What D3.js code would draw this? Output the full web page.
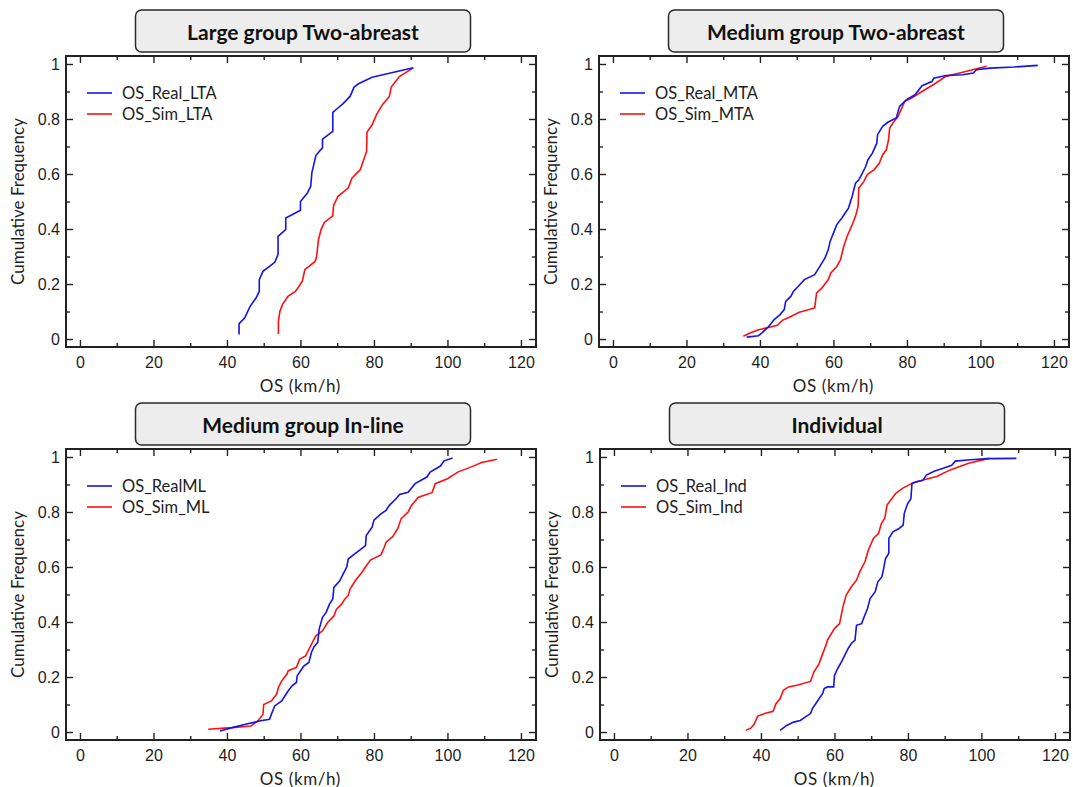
<!DOCTYPE html>
<html>
<head>
<meta charset="utf-8">
<script src="https://cdn.jsdelivr.net/npm/d3@7"></script>
<style>
  body { margin: 0; background: #fff; }
  svg { font-family: Lato, "Open Sans", sans-serif; }
  .tick text { fill: #1e1e1e; font-size: 16px; }
  .tick line { stroke: #222; stroke-width: 1.4; }
</style>
</head>
<body>
<div id="chart"></div>
<script>
// values: [OS km/h, cumulative frequency]
const realLTA = [[43.3,0.016],[43.3,0.056],[44.8,0.076],[46.3,0.119],[47.9,0.149],[48.8,0.173],[48.8,0.216],[49.8,0.246],[52.1,0.27],[53,0.279],[53.9,0.307],[53.9,0.373],[54.9,0.385],[56,0.398],[56,0.44],[57.7,0.452],[60,0.468],[60,0.5],[61.9,0.531],[62.8,0.555],[63.1,0.604],[64.2,0.667],[65.1,0.682],[66,0.695],[66,0.727],[68.8,0.755],[68.8,0.824],[70.2,0.84],[71.6,0.856],[73.5,0.882],[74.6,0.916],[75.8,0.928],[79.5,0.952],[90.7,0.986]];
const simLTA = [[54,0.018],[54,0.064],[54.4,0.1],[55.1,0.125],[56.6,0.155],[58.6,0.173],[59.5,0.189],[60.5,0.21],[61.2,0.252],[62.3,0.264],[64,0.282],[64.4,0.3],[64.9,0.361],[65.6,0.398],[66.5,0.424],[68.8,0.448],[69,0.485],[70.2,0.519],[73,0.549],[74,0.585],[76.3,0.616],[77.2,0.652],[78,0.682],[78.1,0.752],[79.5,0.779],[80.7,0.816],[82.3,0.852],[84.2,0.882],[84.7,0.916],[87,0.955],[90.7,0.986]];

const realMTA = [[36.4,0.007],[39.6,0.012],[40.7,0.024],[42.4,0.046],[43.8,0.07],[45.4,0.088],[46.6,0.107],[47,0.137],[48.4,0.155],[49.1,0.173],[50.3,0.19],[52.1,0.216],[54.9,0.234],[56.3,0.264],[57.7,0.295],[58.6,0.325],[59.1,0.355],[60,0.385],[60.9,0.416],[62.3,0.44],[63.2,0.458],[64.1,0.476],[65.1,0.519],[66,0.567],[66.9,0.579],[67.9,0.604],[68.8,0.628],[69.4,0.652],[70.6,0.676],[71.8,0.712],[72,0.743],[73.4,0.773],[74.8,0.788],[77.1,0.804],[78,0.846],[79.9,0.87],[82.2,0.888],[84.1,0.921],[86.8,0.936],[87.3,0.948],[90.6,0.958],[95.2,0.961],[98.1,0.967],[98.9,0.979],[102.6,0.985],[109.1,0.989],[115.6,0.995]];
const simMTA = [[35.5,0.01],[37.3,0.022],[39.6,0.034],[42.4,0.042],[44.7,0.05],[46.1,0.068],[48.4,0.082],[50.7,0.097],[54.9,0.113],[55.4,0.167],[56.8,0.185],[58.6,0.216],[59.3,0.24],[60.9,0.264],[61.9,0.288],[62.8,0.337],[63.7,0.373],[65.1,0.416],[66,0.446],[66.7,0.482],[66.9,0.549],[68.3,0.573],[69.2,0.598],[71.1,0.616],[72.5,0.64],[73.4,0.67],[74.4,0.688],[75,0.725],[75.3,0.767],[76.2,0.786],[77.6,0.81],[79.4,0.864],[81.3,0.876],[84.1,0.9],[87.8,0.93],[90.6,0.955],[95.2,0.97],[98.9,0.983],[101.7,0.992]];

const realML = [[38.1,0.004],[41.4,0.016],[45.1,0.028],[48.8,0.04],[51.6,0.046],[52.1,0.065],[53,0.095],[54.9,0.113],[55.8,0.132],[56.7,0.15],[57.7,0.168],[58.9,0.18],[59.1,0.204],[60,0.222],[60.9,0.24],[62.3,0.253],[63,0.29],[63.7,0.31],[64.7,0.326],[65.1,0.374],[66,0.417],[67,0.435],[67.9,0.465],[68.8,0.484],[69.1,0.526],[70.7,0.55],[71.6,0.574],[72.6,0.6],[73,0.629],[74.4,0.644],[76.3,0.663],[77.7,0.678],[77.9,0.714],[79.5,0.745],[80,0.77],[81.9,0.793],[83.3,0.806],[84.2,0.824],[86,0.848],[87,0.864],[89.3,0.872],[91.2,0.903],[94.4,0.927],[95.3,0.945],[98.1,0.967],[99.1,0.986],[101.4,0.996]];
const simML = [[34.9,0.01],[36.7,0.012],[41.4,0.016],[46.5,0.022],[48.4,0.04],[49.8,0.064],[50,0.1],[52.1,0.113],[53.5,0.137],[54,0.162],[54.9,0.186],[56.3,0.21],[56.7,0.223],[58.9,0.235],[59.8,0.265],[61.4,0.277],[62.3,0.301],[63.5,0.332],[64.2,0.35],[66,0.368],[67.4,0.398],[69.1,0.422],[69.8,0.447],[71.2,0.465],[72.1,0.484],[73,0.496],[73.5,0.52],[74.9,0.55],[76.7,0.58],[77.7,0.6],[79.1,0.626],[81.9,0.644],[82.8,0.672],[83.3,0.69],[85.1,0.71],[86.5,0.74],[87.4,0.776],[89.3,0.8],[90.2,0.824],[92.1,0.854],[95.8,0.87],[96.7,0.903],[100,0.921],[102.8,0.945],[106.5,0.964],[109.3,0.98],[113.5,0.992]];

const realInd = [[45.2,0.006],[47,0.024],[48.9,0.036],[50.7,0.042],[52.1,0.055],[53.5,0.067],[54,0.085],[54.9,0.103],[55.8,0.121],[56.8,0.14],[57.2,0.158],[58.1,0.164],[59.8,0.164],[60,0.206],[60.9,0.231],[61.9,0.255],[62.8,0.279],[63.7,0.303],[64.6,0.322],[65.6,0.334],[66,0.388],[67.4,0.394],[68.1,0.419],[69,0.449],[69.7,0.485],[71.1,0.51],[71.8,0.546],[72.9,0.564],[73.4,0.595],[73.9,0.631],[74.8,0.65],[74.8,0.704],[75.9,0.728],[77.6,0.74],[78.7,0.752],[79,0.795],[79.9,0.83],[80.8,0.848],[81.1,0.904],[82.2,0.91],[84.1,0.915],[85,0.934],[87.3,0.949],[89.6,0.959],[91.9,0.97],[92.9,0.985],[97,0.99],[101.7,0.994],[109.5,0.995]];
const simInd = [[35.9,0.006],[37.3,0.015],[38.2,0.03],[39.1,0.058],[41,0.067],[43.3,0.075],[44.1,0.103],[45.2,0.121],[46.1,0.152],[47.5,0.164],[49.8,0.17],[53.5,0.184],[54.4,0.218],[55.8,0.248],[56.8,0.285],[57.7,0.316],[58.1,0.334],[60,0.376],[61.4,0.394],[62.3,0.455],[63.2,0.498],[64.6,0.528],[66,0.552],[66.9,0.583],[68.3,0.619],[69.2,0.661],[70.6,0.704],[72,0.722],[72.8,0.759],[73.7,0.777],[74.3,0.825],[75.7,0.85],[76.7,0.868],[78.5,0.886],[81.1,0.904],[84.1,0.916],[87.8,0.929],[91.5,0.953],[96.5,0.977],[102.1,0.995]];

const titles = ["Large group Two-abreast", "Medium group Two-abreast", "Medium group In-line", "Individual"];
const realNames = ["OS_Real_LTA", "OS_Real_MTA", "OS_RealML", "OS_Real_Ind"];
const simNames = ["OS_Sim_LTA", "OS_Sim_MTA", "OS_Sim_ML", "OS_Sim_Ind"];
const realSeries = [realLTA, realMTA, realML, realInd];
const simSeries = [simLTA, simMTA, simML, simInd];

const xTicks = [0, 20, 40, 60, 80, 100, 120];
const xMinor = [10, 30, 50, 70, 90, 110];
const yTicks = [0, 0.2, 0.4, 0.6, 0.8, 1];
const yMinor = [0.1, 0.3, 0.5, 0.7, 0.9];

const xLabel = "OS (km/h)";
const yLabel = "Cumulative Frequency";

const W = 1073, H = 787;
const frames = [
    {x: 66, y: 56},
    {x: 599, y: 56},
    {x: 66, y: 449},
    {x: 600, y: 449}
];
const fw = 470, fh = 291;

const svg = d3.select("#chart").append("svg")
    .attr("width", W)
    .attr("height", H);

const xScale = d3.scaleLinear().domain([-3.8, 124.1]).range([0, fw]);
const yScale = d3.scaleLinear().domain([-0.029, 1.029]).range([fh, 0]);

const line = d3.line()
    .x(d => xScale(d[0]))
    .y(d => yScale(d[1]));

frames.forEach((f, i) => {
    const g = svg.append("g").attr("transform", `translate(${f.x},${f.y})`);

    // title box
    const bw = 335, bh = 42;
    svg.append("rect")
        .attr("x", f.x + fw / 2 - bw / 2 + 2)
        .attr("y", f.y - 46)
        .attr("width", bw)
        .attr("height", bh)
        .attr("rx", 6)
        .attr("fill", "#ededed")
        .attr("stroke", "#2a2a2a")
        .attr("stroke-width", 1.5);
    svg.append("text")
        .attr("x", f.x + fw / 2 + 2)
        .attr("y", f.y - 25)
        .attr("text-anchor", "middle")
        .attr("dominant-baseline", "central")
        .attr("font-weight", "bold")
        .attr("font-size", 21)
        .attr("fill", "#111")
        .text(titles[i]);

    // ticks on four sides, pointing inward
    g.append("g").attr("transform", `translate(0,${fh})`)
        .call(d3.axisBottom(xScale).tickValues(xTicks).tickSize(-7).tickPadding(10).tickFormat(d3.format("d")));
    g.append("g").attr("transform", `translate(0,${fh})`)
        .call(d3.axisBottom(xScale).tickValues(xMinor).tickSize(-4).tickFormat(""));
    g.append("g")
        .call(d3.axisTop(xScale).tickValues(xTicks).tickSize(-7).tickFormat(""));
    g.append("g")
        .call(d3.axisTop(xScale).tickValues(xMinor).tickSize(-4).tickFormat(""));
    g.append("g")
        .call(d3.axisLeft(yScale).tickValues(yTicks).tickSize(-7).tickPadding(6).tickFormat(d3.format("~g")));
    g.append("g")
        .call(d3.axisLeft(yScale).tickValues(yMinor).tickSize(-4).tickFormat(""));
    g.append("g").attr("transform", `translate(${fw},0)`)
        .call(d3.axisRight(yScale).tickValues(yTicks).tickSize(-7).tickFormat(""));
    g.append("g").attr("transform", `translate(${fw},0)`)
        .call(d3.axisRight(yScale).tickValues(yMinor).tickSize(-4).tickFormat(""));
    g.selectAll(".domain").remove();
    g.selectAll(".tick text").attr("font-family", null).attr("font-size", null);

    // curves
    g.append("path")
        .datum(simSeries[i])
        .attr("fill", "none")
        .attr("stroke", "#ff1010")
        .attr("stroke-width", 1.6)
        .attr("d", line);
    g.append("path")
        .datum(realSeries[i])
        .attr("fill", "none")
        .attr("stroke", "#1414e6")
        .attr("stroke-width", 1.6)
        .attr("d", line);

    // frame
    g.append("rect")
        .attr("width", fw)
        .attr("height", fh)
        .attr("fill", "none")
        .attr("stroke", "#222")
        .attr("stroke-width", 2);

    // legend
    const legend = [[realNames[i], "#1414e6"], [simNames[i], "#ff1010"]];
    legend.forEach((l, j) => {
        const ly = 37 + j * 21;
        g.append("line")
            .attr("x1", 21).attr("x2", 46)
            .attr("y1", ly).attr("y2", ly)
            .attr("stroke", l[1]).attr("stroke-width", 1.6);
        g.append("text")
            .attr("x", 56).attr("y", ly)
            .attr("dominant-baseline", "central")
            .attr("font-size", 16.5)
            .attr("fill", "#1e1e1e")
            .text(l[0]);
    });

    // axis titles
    g.append("text")
        .attr("x", xScale(60))
        .attr("y", fh + 38)
        .attr("text-anchor", "middle")
        .attr("dominant-baseline", "central")
        .attr("font-size", 17)
        .attr("letter-spacing", 0.6)
        .attr("fill", "#1e1e1e")
        .text(xLabel);
    g.append("text")
        .attr("transform", `translate(-49,${fh / 2}) rotate(-90)`)
        .attr("text-anchor", "middle")
        .attr("dominant-baseline", "central")
        .attr("font-size", 17)
        .attr("fill", "#1e1e1e")
        .text(yLabel);
});
</script>
</body>
</html>
